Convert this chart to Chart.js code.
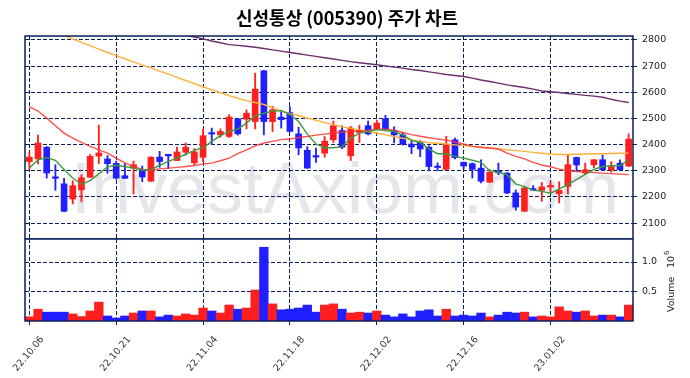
<!DOCTYPE html>
<html>
<head>
<meta charset="utf-8" />
<title>신성통상 주가 차트</title>
<script src="https://cdn.jsdelivr.net/npm/chart.js"></script>
<style>
  body { margin: 0; background: #fff; }
  #wrap { position: relative; width: 690px; height: 378px; }
  canvas { position: absolute; left: 0; }
</style>
</head>
<body>
<div id="wrap">
  <canvas id="priceChart" width="690" height="239" style="top:0"></canvas>
  <canvas id="volumeChart" width="690" height="142" style="top:236px"></canvas>
</div>
<script>
// trading days shown on the chart
const dates = [
  '22.10.06','22.10.07','22.10.11','22.10.12','22.10.13','22.10.14','22.10.17','22.10.18','22.10.19','22.10.20',
  '22.10.21','22.10.24','22.10.25','22.10.26','22.10.27','22.10.28','22.10.31','22.11.01','22.11.02','22.11.03',
  '22.11.04','22.11.07','22.11.08','22.11.09','22.11.10','22.11.11','22.11.14','22.11.15','22.11.16','22.11.17',
  '22.11.18','22.11.21','22.11.22','22.11.23','22.11.24','22.11.25','22.11.28','22.11.29','22.11.30','22.12.01',
  '22.12.02','22.12.05','22.12.06','22.12.07','22.12.08','22.12.09','22.12.12','22.12.13','22.12.14','22.12.15',
  '22.12.16','22.12.19','22.12.20','22.12.21','22.12.22','22.12.23','22.12.26','22.12.27','22.12.28','22.12.29',
  '23.01.02','23.01.03','23.01.04','23.01.05','23.01.06','23.01.09','23.01.10','23.01.11','23.01.12','23.01.13'
];
const tickDates = ['22.10.06','22.10.21','22.11.04','22.11.18','22.12.02','22.12.16','23.01.02'];
const priceTicks = [2100, 2200, 2300, 2400, 2500, 2600, 2700, 2800];
const volumeTicks = [500000, 1000000];

const openP = [
  2335,2345,2390,2276,2250,2192,2227,2275,2356,2345, 2328,2281,2310,2304,2260,2352,2361,2339,2371,2330,
  2351,2444,2437,2431,2498,2497,2488,2682,2488,2505, 2522,2441,2378,2356,2367,2418,2454,2357,2446,2472,
  2460,2498,2454,2437,2402,2410,2390,2314,2305,2418, 2332,2327,2310,2256,2297,2291,2215,2145,2230,2225,
  2238,2212,2240,2351,2291,2323,2342,2304,2329,2318
];
const highP = [
  2372,2436,2392,2323,2271,2262,2285,2362,2474,2358, 2337,2328,2337,2318,2353,2374,2362,2390,2406,2385,
  2458,2463,2460,2514,2500,2533,2673,2684,2546,2527, 2545,2466,2392,2387,2431,2490,2472,2470,2474,2490,
  2494,2512,2468,2446,2420,2415,2395,2330,2432,2425, 2334,2330,2342,2304,2329,2293,2227,2236,2243,2255,
  2259,2258,2361,2352,2329,2343,2360,2335,2342,2441
];
const lowP = [
  2305,2326,2272,2225,2143,2173,2181,2274,2327,2290, 2268,2270,2211,2258,2259,2313,2308,2338,2360,2322,
  2334,2400,2428,2427,2436,2460,2460,2437,2450,2463, 2449,2361,2309,2332,2352,2408,2384,2339,2408,2437,
  2456,2457,2406,2398,2365,2354,2300,2300,2304,2345, 2306,2272,2253,2255,2285,2212,2149,2144,2224,2183,
  2218,2177,2212,2298,2285,2311,2303,2294,2303,2316
];
const closeP = [
  2352,2406,2291,2271,2145,2243,2273,2355,2368,2327, 2272,2271,2323,2276,2352,2335,2357,2372,2390,2372,
  2434,2440,2450,2505,2441,2520,2612,2488,2533,2495, 2450,2387,2310,2352,2413,2472,2390,2463,2454,2441,
  2482,2460,2437,2402,2391,2383,2316,2312,2401,2350, 2318,2305,2260,2294,2292,2215,2161,2234,2226,2238,
  2243,2225,2323,2322,2304,2342,2304,2316,2304,2421
];
const volume = [
  73000,200000,150000,150000,150000,120000,75000,170000,320000,85000,
  50000,85000,135000,170000,170000,70000,100000,85000,120000,100000,
  220000,170000,135000,270000,200000,220000,525000,1250000,290000,190000,
  200000,220000,270000,150000,270000,290000,200000,135000,150000,135000,
  170000,100000,70000,120000,70000,170000,190000,85000,200000,85000,
  100000,85000,135000,70000,100000,150000,135000,150000,70000,85000,
  70000,240000,170000,150000,170000,85000,100000,100000,70000,270000
];

// moving averages
const ma5 = [
  2310,2342,2350,2340,2305,2272,2248,2262,2288,2315, 2321,2316,2310,2302,2304,2320,2336,2348,2363,2378,
  2388,2412,2434,2450,2459,2482,2510,2520,2527,2530, 2515,2488,2440,2402,2388,2388,2392,2425,2444,2450,
  2457,2454,2450,2437,2416,2408,2383,2365,2365,2355, 2348,2340,2332,2300,2294,2284,2250,2239,2226,2221,
  2214,2230,2248,2266,2286,2305,2316,2319,2319,2342
];
const ma20 = [
  2545,2528,2501,2472,2444,2425,2408,2393,2380,2367, 2348,2330,2316,2305,2303,2307,2310,2313,2316,2320,
  2326,2329,2338,2348,2365,2380,2395,2406,2412,2419, 2421,2427,2431,2436,2440,2444,2448,2450,2453,2454,
  2459,2459,2455,2446,2438,2432,2426,2421,2417,2410, 2402,2393,2390,2387,2383,2367,2355,2345,2332,2322,
  2315,2306,2300,2297,2295,2293,2291,2289,2287,2285
];
const ma60 = [
  null,null,null,2830,2817,2804,2791,2778,2765,2752, 2740,2728,2716,2704,2693,2681,2669,2657,2645,2633,
  2621,2609,2598,2587,2577,2568,2561,2553,2540,2528, 2518,2511,2502,2493,2484,2476,2468,2462,2455,2450,
  2444,2437,2431,2424,2418,2412,2407,2405,2402,2399, 2396,2393,2390,2387,2384,2380,2377,2374,2370,2367,
  2364,2362,2362,2363,2364,2365,2365,2366,2367,2367
];
const ma120 = [
  null,null,null,null,null,null,null,null,null,null, null,null,null,null,null,null,null,2825,2818,2811,
  2804,2796,2789,2782,2779,2776,2772,2767,2762,2757, 2752,2747,2742,2737,2732,2727,2722,2717,2713,2709,
  2705,2701,2696,2692,2687,2683,2678,2673,2668,2664, 2660,2654,2647,2641,2635,2628,2623,2618,2612,2605,
  2602,2599,2595,2592,2588,2585,2581,2573,2566,2561
];

const UP = '#ff1f1f';
const DOWN = '#1f1fff';
const NAVY = '#0a1f5c';
const candleColor = openP.map((o, i) => closeP[i] >= o ? UP : DOWN);
const tickFont = { family: '"DejaVu Sans", sans-serif', size: 9.5 };

const gridX = ctx => tickDates.includes(dates[ctx.index]) ? NAVY : 'rgba(0,0,0,0)';

const frame = {
  id: 'frame',
  afterDraw(chart) {
    const { ctx, chartArea: a } = chart;
    ctx.save();
    ctx.strokeStyle = NAVY;
    ctx.lineWidth = 1.5;
    ctx.strokeRect(a.left, a.top, a.right - a.left, a.bottom - a.top);
    ctx.restore();
  }
};

// page title and watermark, centred on the figure rather than the plot
const watermark = {
  id: 'watermark',
  beforeDraw(chart) {
    const ctx = chart.ctx;
    ctx.save();
    ctx.font = '72px "Liberation Sans", Arial, sans-serif';
    ctx.fillStyle = '#e6e6ea';
    ctx.textAlign = 'center';
    ctx.fillText('InvestAxiom.com', 345, 213);
    ctx.fillStyle = '#000';
    ctx.font = 'bold 18px "Noto Sans CJK KR", sans-serif';
    ctx.textBaseline = 'middle';
    ctx.fillText('신성통상 (005390) 주가 차트', 347, 18);
    ctx.restore();
  }
};

const volTitle = {
  id: 'volTitle',
  afterDraw(chart) {
    const ctx = chart.ctx;
    ctx.save();
    ctx.translate(672, chart.chartArea.bottom - 9);
    ctx.rotate(-Math.PI / 2);
    ctx.fillStyle = '#222';
    ctx.textBaseline = 'middle';
    ctx.font = '9.5px "DejaVu Sans"';
    ctx.fillText('Volume', 0, 0);
    ctx.fillText('10', 44, 0);
    ctx.font = '7px "DejaVu Sans"';
    ctx.fillText('6', 57, -5);
    ctx.restore();
  }
};

function noPad(s) { s.paddingTop = 0; s.paddingBottom = 0; s.paddingLeft = 0; s.paddingRight = 0; }

const maLine = (data, color) => ({
  type: 'line', data, borderColor: color, borderWidth: 1.4,
  pointRadius: 0, tension: 0, order: 0
});

new Chart(document.getElementById('priceChart'), {
  type: 'bar',
  data: {
    labels: dates,
    datasets: [
      maLine(ma5, '#3c9a3c'),
      maLine(ma20, 'rgba(255,50,50,0.85)'),
      maLine(ma60, '#ffb03a'),
      maLine(ma120, '#6b2f6e'),
      {
        data: openP.map((o, i) => [o, closeP[i]]),
        backgroundColor: candleColor, barThickness: 6, minBarLength: 1.5,
        grouped: false, order: 1
      },
      {
        data: lowP.map((l, i) => [l, highP[i]]),
        backgroundColor: candleColor, barThickness: 1.2,
        grouped: false, order: 2
      }
    ]
  },
  options: {
    responsive: false,
    animation: false,
    layout: { padding: { left: 25, right: 0, top: 36, bottom: 0 } },
    plugins: {
      legend: { display: false },
      tooltip: { enabled: false }
    },
    scales: {
      x: {
        offset: true,
        grid: { color: gridX, offset: false, drawTicks: false },
        border: { display: false, dash: [4, 2] },
        ticks: { display: false, autoSkip: false },
        afterFit(s) { s.height = 0; noPad(s); }
      },
      y: {
        position: 'right',
        min: 2039, max: 2815,
        grid: { color: NAVY, tickLength: 4 },
        border: { display: false, dash: [4, 2] },
        ticks: { font: tickFont, color: '#222', padding: 5, callback: v => String(v) },
        afterBuildTicks(s) { s.ticks = priceTicks.map(v => ({ value: v })); },
        afterFit(s) { s.width = 57; noPad(s); }
      }
    }
  },
  plugins: [watermark, frame]
});

new Chart(document.getElementById('volumeChart'), {
  type: 'bar',
  data: {
    labels: dates,
    datasets: [{
      data: volume,
      backgroundColor: candleColor,
      barPercentage: 1, categoryPercentage: 1, borderWidth: 0
    }]
  },
  options: {
    responsive: false,
    animation: false,
    layout: { padding: { left: 25, right: 0, top: 3, bottom: 0 } },
    plugins: { legend: { display: false }, tooltip: { enabled: false } },
    scales: {
      x: {
        offset: true,
        grid: { color: gridX, offset: false, tickLength: 4 },
        border: { display: false, dash: [4, 2] },
        ticks: {
          autoSkip: false, minRotation: 50, maxRotation: 50,
          labelOffset: 13, padding: 9,
          font: tickFont, color: '#333',
          callback(v, i) { return tickDates.includes(dates[i]) ? dates[i] : ''; }
        },
        afterFit(s) { s.height = 57; noPad(s); }
      },
      y: {
        position: 'right',
        min: 0, max: 1390000,
        grid: { color: NAVY, tickLength: 4 },
        border: { display: false, dash: [4, 2] },
        ticks: {
          font: tickFont, color: '#222', padding: 5,
          callback: v => (v / 1e6).toFixed(1)
        },
        afterBuildTicks(s) { s.ticks = volumeTicks.map(v => ({ value: v })); },
        afterFit(s) { s.width = 57; noPad(s); }
      }
    }
  },
  plugins: [frame, volTitle]
});
</script>
</body>
</html>
